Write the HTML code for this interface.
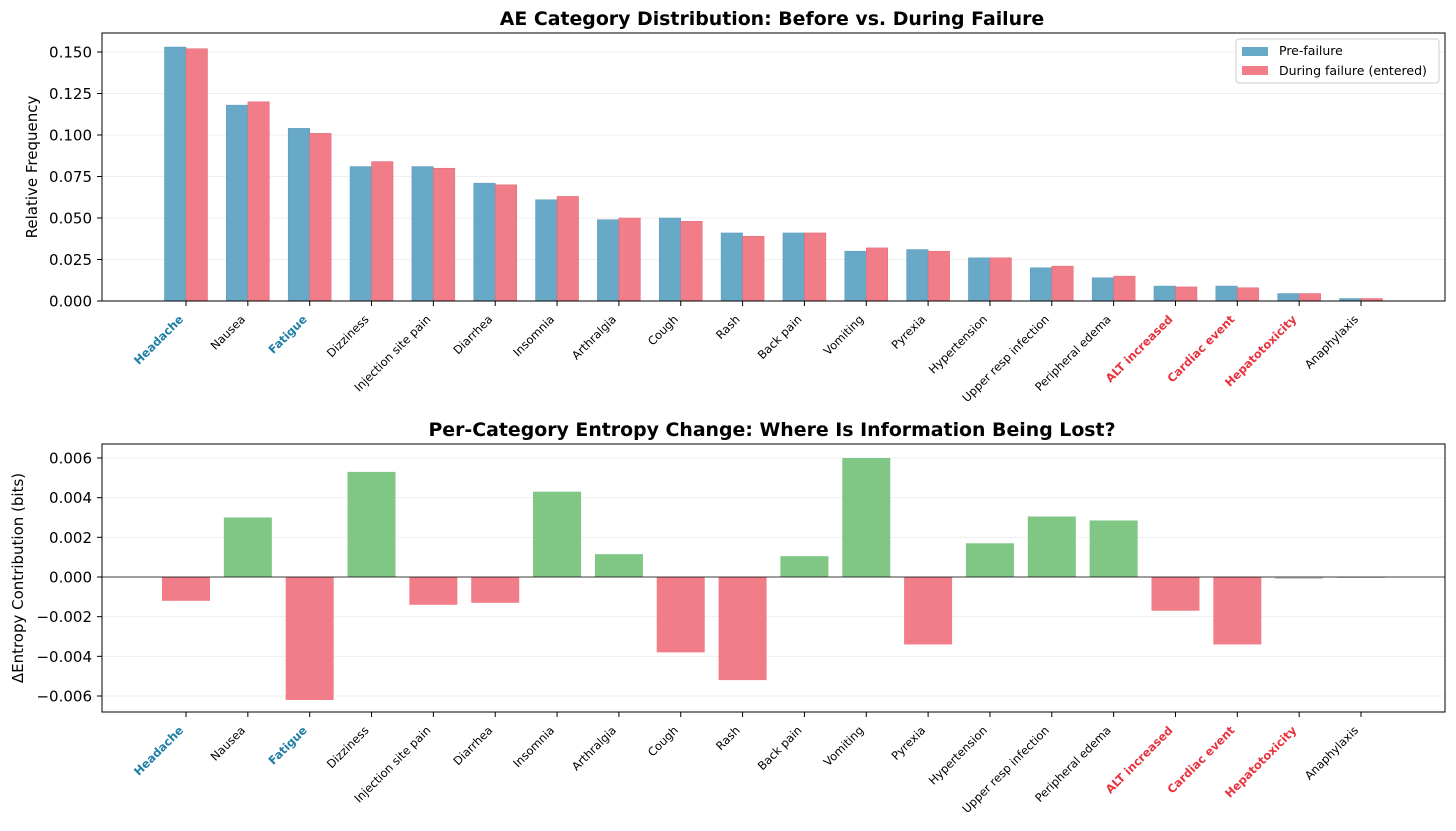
<!DOCTYPE html>
<html><head><meta charset="utf-8"><style>
body{margin:0;background:#fff;}
svg text{font-family:"DejaVu Sans","Liberation Sans",sans-serif;}
</style></head><body>
<svg id="c" width="1456" height="826" xmlns="http://www.w3.org/2000/svg"></svg>
<script>
const categories=["Headache","Nausea","Fatigue","Dizziness","Injection site pain","Diarrhea","Insomnia","Arthralgia","Cough","Rash","Back pain","Vomiting","Pyrexia","Hypertension","Upper resp infection","Peripheral edema","ALT increased","Cardiac event","Hepatotoxicity","Anaphylaxis"];
const preFailure=[0.153,0.118,0.104,0.081,0.081,0.071,0.061,0.049,0.050,0.041,0.041,0.030,0.031,0.026,0.020,0.014,0.009,0.009,0.0045,0.0015];
const duringFailure=[0.152,0.120,0.101,0.084,0.080,0.070,0.063,0.050,0.048,0.039,0.041,0.032,0.030,0.026,0.021,0.015,0.0085,0.008,0.0045,0.0015];
const entropyDelta=[-0.0012,0.0030,-0.0062,0.0053,-0.0014,-0.0013,0.0043,0.00115,-0.0038,-0.0052,0.00105,0.0060,-0.0034,0.0017,0.00305,0.00285,-0.0017,-0.0034,-0.0001,-0.00002];
const blueLabels=["Headache","Fatigue"];
const redLabels=["ALT increased","Cardiac event","Hepatotoxicity"];
const topTicks=[0,0.025,0.05,0.075,0.1,0.125,0.15];
const topTickLabels=["0.000","0.025","0.050","0.075","0.100","0.125","0.150"];
const botTicks=[-0.006,-0.004,-0.002,0,0.002,0.004,0.006];
const botTickLabels=["−0.006","−0.004","−0.002","0.000","0.002","0.004","0.006"];

const svg=document.getElementById('c');
const NS="http://www.w3.org/2000/svg";
function mk(tag,attrs,text){const e=document.createElementNS(NS,tag);for(const k in attrs)e.setAttribute(k,attrs[k]);if(text!==undefined)e.textContent=text;svg.appendChild(e);return e;}
const X0=102,X1=1445;
const xc=i=>186+i*(1361-186)/(categories.length-1);
const yTop=v=>301-v*(301-52)/0.15;
const yBot=v=>577-v*(577-458)/0.006;

let e;
topTicks.forEach((t,i)=>{
  e=mk('line',{x1:X0,x2:X1,y1:yTop(t),y2:yTop(t),stroke:'#efefef','stroke-width':1});
  
  e=mk('line',{x1:X0-5,x2:X0,y1:yTop(t),y2:yTop(t),stroke:'#000'});
  
  e=mk('text',{x:X0-10,y:yTop(t)+5.5,'text-anchor':'end','font-size':15},topTickLabels[i]);
  
});
categories.forEach((c,i)=>{
  e=mk('rect',{x:xc(i)-21.5,y:yTop(preFailure[i]),width:21.5,height:301-yTop(preFailure[i]),fill:'#67a9c6',stroke:'#5a9ab8','stroke-width':0.5});
  
  e=mk('rect',{x:xc(i),y:yTop(duringFailure[i]),width:21.5,height:301-yTop(duringFailure[i]),fill:'#f07d88',stroke:'#e06a76','stroke-width':0.5});
  
});
e=mk('rect',{x:X0,y:33,width:X1-X0,height:268,fill:'none',stroke:'#000','stroke-width':1});

e=mk('text',{x:772,y:25,'text-anchor':'middle','font-size':18.9,'font-weight':'bold'},'AE Category Distribution: Before vs. During Failure');

e=mk('text',{x:37,y:167,'text-anchor':'middle','font-size':15,transform:'rotate(-90,37,167)'},'Relative Frequency');


e=mk('rect',{x:1236,y:39,width:203,height:44,fill:'#fff',stroke:'#ccc',rx:3});

e=mk('rect',{x:1242,y:47,width:26,height:9,fill:'#67a9c6'});

e=mk('text',{x:1279,y:55,'font-size':12.5},'Pre-failure');

e=mk('rect',{x:1242,y:66,width:26,height:9,fill:'#f07d88'});

e=mk('text',{x:1279,y:75,'font-size':12.5},'During failure (entered)');


botTicks.forEach((t,i)=>{
  e=mk('line',{x1:X0,x2:X1,y1:yBot(t),y2:yBot(t),stroke:'#efefef','stroke-width':1});
  
  e=mk('line',{x1:X0-5,x2:X0,y1:yBot(t),y2:yBot(t),stroke:'#000'});
  
  e=mk('text',{x:X0-10,y:yBot(t)+5.5,'text-anchor':'end','font-size':15},botTickLabels[i]);
  
});
categories.forEach((c,i)=>{
  const v=entropyDelta[i];
  const col=Math.abs(v)<0.0003?'#cccccc':(v>0?'#80c684':'#f07d88');
  const y=Math.min(yBot(v),577),h=Math.max(Math.abs(yBot(v)-577),1);
  e=mk('rect',{x:xc(i)-24,y:y,width:48,height:h,fill:col});
  
});
e=mk('line',{x1:X0,x2:X1,y1:577,y2:577,stroke:'#000','stroke-width':0.8});

e=mk('rect',{x:X0,y:444,width:X1-X0,height:268,fill:'none',stroke:'#000','stroke-width':1});

e=mk('text',{x:772,y:436,'text-anchor':'middle','font-size':18.9,'font-weight':'bold'},'Per-Category Entropy Change: Where Is Information Being Lost?');

e=mk('text',{x:23,y:578,'text-anchor':'middle','font-size':15,transform:'rotate(-90,23,578)'},'ΔEntropy Contribution (bits)');


[[301,'top'],[712,'bottom']].forEach(([base,p])=>{
  categories.forEach((c,i)=>{
    const x=xc(i);
    e=mk('line',{x1:x,x2:x,y1:base,y2:base+5,stroke:'#000'});
    
    const blue=blueLabels.includes(c),red=redLabels.includes(c);
    const tx=x-2,ty=base+19;
    e=mk('text',{x:tx,y:ty,'text-anchor':'end','font-size':11.5,fill:blue?'#1f7fa6':(red?'#e8333f':'#000'),'font-weight':(blue||red)?'bold':'normal',transform:`rotate(-45,${tx},${ty})`},c);
    
  });
});
</script>
</body></html>
